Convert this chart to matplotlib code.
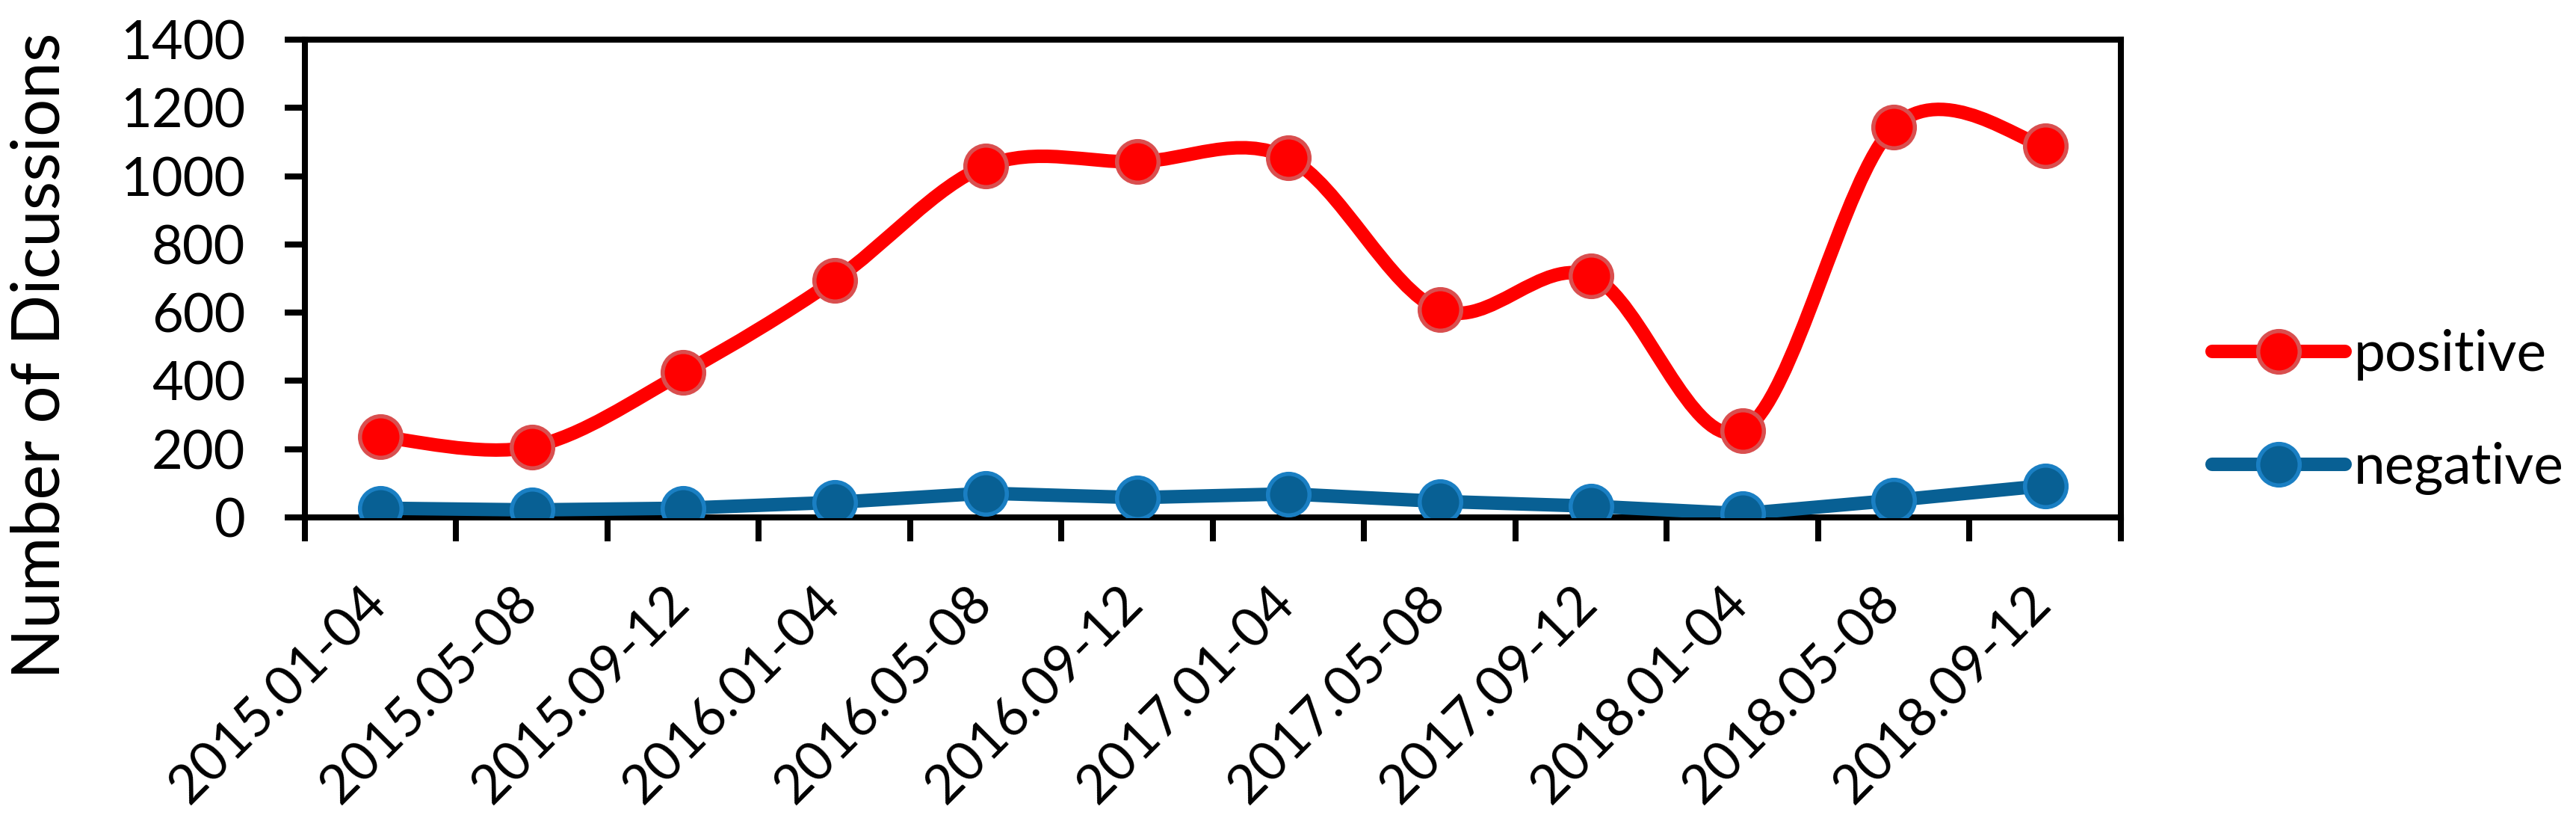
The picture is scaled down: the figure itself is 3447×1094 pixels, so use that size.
import matplotlib
matplotlib.use("Agg")
import matplotlib.pyplot as plt
import matplotlib.transforms as mtransforms
from matplotlib.path import Path
from matplotlib.patches import PathPatch
from matplotlib.lines import Line2D
import numpy as np

# data
periods = ["2015.01-04", "2015.05-08", "2015.09-12", "2016.01-04", "2016.05-08", "2016.09-12",
           "2017.01-04", "2017.05-08", "2017.09-12", "2018.01-04", "2018.05-08", "2018.09-12"]
positive = [236, 207, 424, 695, 1030, 1042, 1053, 608, 707, 254, 1144, 1089]
negative = [27, 22, 27, 44, 71, 58, 69, 47, 33, 11, 50, 93]
y_ticks = [0, 200, 400, 600, 800, 1000, 1200, 1400]

RED = "#FF0000"
RED_EDGE = "#D94F4F"
BLUE = "#086094"
BLUE_EDGE = "#1A7FC3"

plt.rcParams["font.family"] = ["Lato", "DejaVu Sans"]


def smooth_path(xs, ys):
    """Excel-like smoothed line: cubic Bezier through every point."""
    n = len(xs)
    verts = [(xs[0], ys[0])]
    codes = [Path.MOVETO]
    for i in range(n - 1):
        a = i - 1 if i > 0 else i
        b = i + 2 if i + 2 < n else i + 1
        c1 = (xs[i] + (xs[i + 1] - xs[a]) / 6, ys[i] + (ys[i + 1] - ys[a]) / 6)
        c2 = (xs[i + 1] - (xs[b] - xs[i]) / 6, ys[i + 1] - (ys[b] - ys[i]) / 6)
        verts += [c1, c2, (xs[i + 1], ys[i + 1])]
        codes += [Path.CURVE4] * 3
    return Path(verts, codes)


fig = plt.figure(figsize=(34.48, 10.94), dpi=100)
ax = fig.add_axes([408 / 3448, 1 - 692 / 1094, (2838 - 408) / 3448, (692 - 53) / 1094])

x = np.arange(len(periods))
LW = 13
MS = 40
MEW = 4

ax.add_patch(PathPatch(smooth_path(x, positive), facecolor="none", edgecolor=RED,
                       lw=LW, capstyle="round", joinstyle="round", zorder=3))
ax.plot(x, positive, ls="none", marker="o", ms=MS, mfc=RED, mec=RED_EDGE, mew=MEW, zorder=4)

ax.plot(x, negative, color=BLUE, lw=LW, solid_capstyle="round", solid_joinstyle="round",
        marker="o", ms=MS, mfc=BLUE, mec=BLUE_EDGE, mew=MEW, zorder=4)

ax.set_xlim(-0.5, len(periods) - 0.5)
ax.set_ylim(0, 1400)
ax.set_yticks(y_ticks)
ax.set_yticklabels([str(v) for v in y_ticks])

ax.set_xticks(x)
ax.set_xticklabels(periods, rotation=45, ha="right", rotation_mode="default")
ax.set_xticks(np.arange(-0.5, len(periods), 1.0), minor=True)
ax.tick_params(axis="x", which="major", length=0, pad=58, labelsize=52)
ax.tick_params(axis="x", which="minor", length=23, width=5.8, direction="out")
ax.tick_params(axis="y", length=19.5, width=5.8, pad=38, labelsize=52)

shift = mtransforms.ScaledTranslation(0.2, 0, fig.dpi_scale_trans)
for lab in ax.get_xticklabels():
    lab.set_transform(lab.get_transform() + shift)

for s in ax.spines.values():
    s.set_linewidth(5.8)

fig.text(55 / 3448, 1 - 476 / 1094, "Number of Dicussions", rotation=90,
         ha="center", va="center", fontsize=64)

handles = [
    Line2D([], [], color=RED, lw=LW, solid_capstyle="round", marker="o", ms=MS,
           mfc=RED, mec=RED_EDGE, mew=MEW),
    Line2D([], [], color=BLUE, lw=LW, solid_capstyle="round", marker="o", ms=MS,
           mfc=BLUE, mec=BLUE_EDGE, mew=MEW),
]
fig.legend(handles, ["positive", "negative"], loc="center left",
           bbox_to_anchor=(2960 / 3448, 1 - 551 / 1094), frameon=False,
           fontsize=54, handlelength=2.37, handletextpad=0.16, labelspacing=1.1,
           borderpad=0, borderaxespad=0)

fig.savefig("out.png", dpi=100)
